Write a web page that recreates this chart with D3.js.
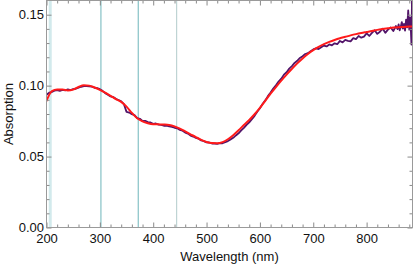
<!DOCTYPE html>
<html>
<head>
<meta charset="utf-8">
<script src="https://cdn.jsdelivr.net/npm/d3@7"></script>
<style>
  body { margin: 0; background: #fff; }
  text { font-family: "Liberation Sans", Arial, Helvetica, sans-serif; fill: #111; }
  .tick line { stroke: #8a8a8a; }
</style>
</head>
<body>
<div id="chart"></div>
<script>
// measured spectrum (nm, absorption)
let specNm = [
  200,205,210,215,220,225,230,235,240,245,
  250,255,260,265,270,275,280,285,290,295,
  300,305,310,315,320,325,330,335,340,345,
  350,355,360,365,370,375,380,385,390,395,
  400,405,410,415,420,425,430,435,440,445,
  450,455,460,465,470,475,480,485,490,495,
  500,505,510,515,520,525,530,535,540,545,
  550,555,560,565,570,575,580,585,590,595,
  600,605,610,615,620,625,630,635,640,645,
  650,655,660,665,670,675,680,685,690,695,
  700,705,710,715,720,725,730,735,740,745,
  750,755,760,765,770,775,780,785,790,795,
  800,805,810,815,820,825,830,835,840,845,
  850,855,858,860,862,864,866,868,870,872,
  874,876,878,880,882,884,885,886];
let specAbs = [
  0.0935,0.0950,0.0955,0.0964,0.0968,0.0963,0.0970,0.0967,0.0973,0.0968,
  0.0976,0.0978,0.0986,0.0992,0.0997,0.0996,0.0995,0.0993,0.0985,0.0983,
  0.0975,0.0963,0.0947,0.0936,0.0924,0.0919,0.0907,0.0899,0.0889,0.0870,
  0.0815,0.0810,0.0799,0.0792,0.0771,0.0766,0.0751,0.0752,0.0743,0.0740,
  0.0731,0.0733,0.0725,0.0724,0.0717,0.0718,0.0712,0.0709,0.0703,0.0699,
  0.0688,0.0682,0.0669,0.0662,0.0648,0.0641,0.0632,0.0626,0.0614,0.0609,
  0.0600,0.0599,0.0592,0.0592,0.0589,0.0594,0.0594,0.0601,0.0609,0.0621,
  0.0632,0.0649,0.0664,0.0684,0.0702,0.0723,0.0741,0.0764,0.0787,0.0816,
  0.0841,0.0871,0.0896,0.0926,0.0951,0.0979,0.1002,0.1029,0.1049,0.1077,
  0.1094,0.1120,0.1138,0.1160,0.1175,0.1195,0.1207,0.1223,0.1229,0.1243,
  0.1255,0.1262,0.1258,0.1270,0.1282,0.1276,0.1290,0.1284,0.1298,0.1292,
  0.1315,0.1305,0.1322,0.1316,0.1312,0.1335,0.1328,0.1350,0.1338,0.1345,
  0.1368,0.1350,0.1372,0.1390,0.1365,0.1380,0.1402,0.1372,0.1395,0.1410,
  0.1385,0.1420,0.1398,0.1432,0.1390,0.1415,0.1448,0.1402,0.1435,0.1388,
  0.1465,0.1410,0.1530,0.1395,0.1480,0.1290,0.1600,0.1420];

// fitted curve
let fitNm = [200,205,210,220,230,240,250,260,270,280,290,300,310,320,330,340,350,360,370,380,
  390,400,410,420,430,440,450,460,470,480,490,500,510,520,530,540,550,560,570,580,
  590,600,610,620,630,640,650,660,670,680,690,700,710,720,730,740,750,760,770,780,
  790,800,810,820,830,840,850,860,870,880,886];
let fitAbs = [0.0890,0.0935,0.0962,0.0972,0.0972,0.0966,0.0972,0.0990,0.1003,0.1000,
  0.0987,0.0970,0.0950,0.0928,0.0905,0.0885,0.0852,0.0808,0.0770,0.0748,
  0.0735,0.0728,0.0727,0.0726,0.0723,0.0713,0.0697,0.0677,0.0657,0.0637,
  0.0618,0.0603,0.0595,0.0594,0.0602,0.0622,0.0650,0.0685,0.0722,0.0758,
  0.0798,0.0843,0.0893,0.0943,0.0990,0.1035,0.1078,0.1118,0.1157,0.1192,
  0.1223,0.1250,0.1273,0.1292,0.1308,0.1322,0.1334,0.1344,0.1354,0.1363,
  0.1371,0.1378,0.1385,0.1393,0.1399,0.1404,0.1409,0.1412,0.1414,0.1416,0.1416];

// marker wavelengths
let markerNm = [207, 302, 372, 444];
let xTicks = [200, 300, 400, 500, 600, 700, 800];
let yTicks = [0, 0.05, 0.10, 0.15];

let markerStyle = [
  {color: "#d2eaec", w: 3},
  {color: "#86c2c6", w: 1.2},
  {color: "#86c2c6", w: 1.2},
  {color: "#b2cccc", w: 1}
];

let margin = {top: 0.5, right: 2.5, bottom: 39.5, left: 46.5},
    width = 415 - margin.left - margin.right,
    height = 267 - margin.top - margin.bottom;

let svg = d3.select("#chart").append("svg")
    .attr("width", 415)
    .attr("height", 267)
    .append("g")
    .attr("transform", "translate(" + margin.left + "," + margin.top + ")");

let x = d3.scaleLinear().domain([200, 886]).range([0, width]);
let y = d3.scaleLinear().domain([0, 0.16]).range([height, 0]);

svg.append("clipPath").attr("id", "clip")
    .append("rect").attr("width", width).attr("height", height);

// marker lines
svg.selectAll(".marker")
    .data(markerNm)
    .enter().append("line")
    .attr("class", "marker")
    .attr("x1", d => x(d)).attr("x2", d => x(d))
    .attr("y1", 0).attr("y2", height)
    .attr("stroke", (d, i) => markerStyle[i].color)
    .attr("stroke-width", (d, i) => markerStyle[i].w);

let spec = specNm.map((d, i) => ({nm: d, a: specAbs[i]}));
let fit = fitNm.map((d, i) => ({nm: d, a: fitAbs[i]}));

let g = svg.append("g").attr("clip-path", "url(#clip)");

g.append("path")
    .datum(spec)
    .attr("fill", "none")
    .attr("stroke", "#521469")
    .attr("stroke-width", 1.8)
    .attr("stroke-linejoin", "round")
    .attr("d", d3.line().x(d => x(d.nm)).y(d => y(d.a)));

g.append("path")
    .datum(fit)
    .attr("fill", "none")
    .attr("stroke", "#ff1a1a")
    .attr("stroke-width", 2)
    .attr("d", d3.line().curve(d3.curveMonotoneX).x(d => x(d.nm)).y(d => y(d.a)));

// axes, ticks point inwards on all four sides
let minorX = d3.range(200, 886, 20).filter(v => v % 100 !== 0);
let minorY = d3.range(0, 0.16, 0.01).filter(v => Math.abs(v / 0.05 - Math.round(v / 0.05)) > 1e-6);

function clean(sel) { sel.select(".domain").remove(); }

svg.append("g")
    .attr("transform", "translate(0," + height + ")")
    .call(d3.axisBottom(x).tickValues(xTicks).tickSize(-5).tickFormat(d3.format("d")))
    .call(clean)
    .call(s => s.selectAll("text").attr("font-size", 13).attr("dy", "0.71em").attr("y", 6));
svg.append("g")
    .attr("transform", "translate(0," + height + ")")
    .call(d3.axisBottom(x).tickValues(minorX).tickSize(-3).tickFormat(""))
    .call(clean);
svg.append("g")
    .call(d3.axisTop(x).tickValues(xTicks).tickSize(-5).tickFormat(""))
    .call(clean);
svg.append("g")
    .call(d3.axisTop(x).tickValues(minorX).tickSize(-3).tickFormat(""))
    .call(clean);

svg.append("g")
    .call(d3.axisLeft(y).tickValues(yTicks).tickSize(-5).tickFormat(d3.format(".2f")))
    .call(clean)
    .call(s => s.selectAll("text").attr("font-size", 13).attr("x", -2.5));
svg.append("g")
    .call(d3.axisLeft(y).tickValues(minorY).tickSize(-3).tickFormat(""))
    .call(clean);
svg.append("g")
    .attr("transform", "translate(" + width + ",0)")
    .call(d3.axisRight(y).tickValues(yTicks).tickSize(-5).tickFormat(""))
    .call(clean);
svg.append("g")
    .attr("transform", "translate(" + width + ",0)")
    .call(d3.axisRight(y).tickValues(minorY).tickSize(-3).tickFormat(""))
    .call(clean);

// frame
svg.append("rect")
    .attr("width", width).attr("height", height)
    .attr("fill", "none")
    .attr("stroke", "#9a9a9a")
    .attr("stroke-width", 1);

svg.append("text")
    .attr("x", width / 2)
    .attr("y", height + 33)
    .attr("text-anchor", "middle")
    .attr("font-size", 13)
    .text("Wavelength (nm)");

svg.append("text")
    .attr("transform", "rotate(-90)")
    .attr("x", -height / 2)
    .attr("y", -34)
    .attr("text-anchor", "middle")
    .attr("font-size", 13)
    .text("Absorption");
</script>
</body>
</html>
